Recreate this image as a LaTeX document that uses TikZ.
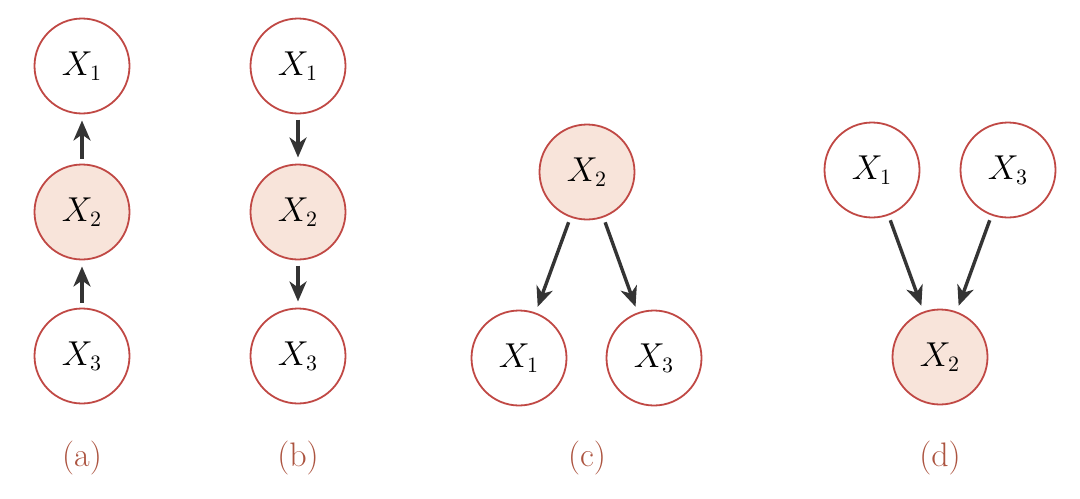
\documentclass[tikz,border=0pt]{standalone}
\usetikzlibrary{arrows.meta}
\definecolor{ringred}{RGB}{192,72,68}
\definecolor{shade}{RGB}{248,228,218}
\definecolor{arrowgray}{RGB}{52,52,52}
\definecolor{capred}{RGB}{172,84,64}
\tikzset{
  var/.style={circle, draw=ringred, line width=0.9pt, fill=white, minimum size=47.5pt, inner sep=0pt, outer sep=0pt, font=\fontsize{16}{18}\selectfont},
  obs/.style={var, fill=shade},
  edge/.style={draw=arrowgray, line width=1.7pt, -{Stealth[length=10pt,width=8.5pt,inset=3pt]}, shorten <=3pt, shorten >=3.5pt},
  caplabel/.style={text=capred, font=\fontsize{17}{20}\selectfont}
}
\begin{document}
\begin{tikzpicture}[x=0.5pt,y=-0.5pt]
\useasboundingbox (0,0) rectangle (1080,498);
% (a)
\node[var] (a1) at (82,66) {$X_1$};
\node[obs] (a2) at (82,212) {$X_2$};
\node[var] (a3) at (82,356) {$X_3$};
\draw[edge] (a2) -- (a1);
\draw[edge] (a3) -- (a2);
\node[caplabel] (la) at (82,458) {(a)};
% (b)
\node[var] (b1) at (298,66) {$X_1$};
\node[obs] (b2) at (298,212) {$X_2$};
\node[var] (b3) at (298,356) {$X_3$};
\draw[edge] (b1) -- (b2);
\draw[edge] (b2) -- (b3);
\node[caplabel] (lb) at (298,458) {(b)};
% (c)
\node[obs] (c2) at (587,172) {$X_2$};
\node[var] (c1) at (519,358) {$X_1$};
\node[var] (c3) at (654,358) {$X_3$};
\draw[edge] (c2) -- (c1);
\draw[edge] (c2) -- (c3);
\node[caplabel] (lc) at (587,458) {(c)};
% (d)
\node[var] (d1) at (872,170) {$X_1$};
\node[var] (d3) at (1008,170) {$X_3$};
\node[obs] (d2) at (940,357) {$X_2$};
\draw[edge] (d1) -- (d2);
\draw[edge] (d3) -- (d2);
\node[caplabel] (ld) at (940,458) {(d)};
\end{tikzpicture}
\end{document}
